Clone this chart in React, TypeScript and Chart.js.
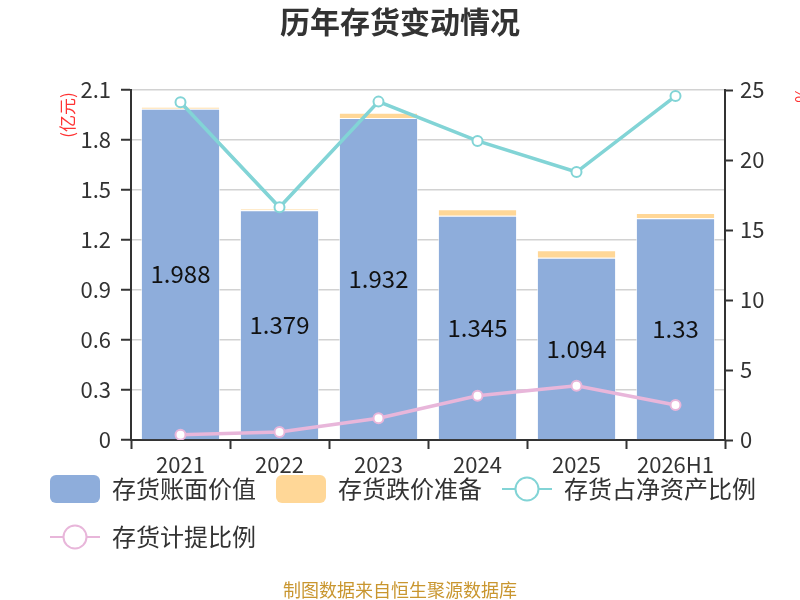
import React, { useEffect, useRef } from 'react';
import { Chart, registerables } from 'chart.js';

Chart.register(...registerables);

const categories = ['2021', '2022', '2023', '2024', '2025', '2026H1'];
const bookValue = [1.988, 1.379, 1.932, 1.345, 1.094, 1.33];
const reserve = [0.01, 0.008, 0.032, 0.04, 0.044, 0.032];
const inventoryRatio = [24.12, 16.62, 24.17, 21.36, 19.14, 24.57];
const provisionRatio = [0.38, 0.57, 1.55, 3.16, 3.88, 2.5];

const FONT = '"Noto Sans CJK SC", "Noto Sans", sans-serif';
const BLUE = '#8EADDB';
const ORANGE = '#FFD797';
const TEAL = '#82D4D6';
const PINK = '#E8B6DA';

const overlay = {
    id: 'overlay',
    afterDatasetsDraw(chart: any) {
        const ctx = chart.ctx;
        const meta = chart.getDatasetMeta(0);
        ctx.save();
        ctx.font = `24px ${FONT}`;
        ctx.fillStyle = '#111';
        ctx.textAlign = 'center';
        ctx.textBaseline = 'middle';
        meta.data.forEach((bar: any, i: number) => {
            const { x, y, base } = bar.getProps(['x', 'y', 'base'], true);
            ctx.fillText(String(bookValue[i]), x, (y + base) / 2);
        });
        ctx.restore();
    },
    afterDraw(chart: any) {
        const ctx = chart.ctx;
        ctx.save();
        // title
        ctx.font = `bold 30px ${FONT}`;
        ctx.fillStyle = '#333';
        ctx.textAlign = 'center';
        ctx.textBaseline = 'middle';
        ctx.fillText('历年存货变动情况', 400, 22);

        // source
        ctx.font = `18px ${FONT}`;
        ctx.fillStyle = '#C9962F';
        ctx.fillText('制图数据来自恒生聚源数据库', 400, 590);

        // axis titles
        ctx.font = `17px ${FONT}`;
        ctx.fillStyle = '#FF3333';
        ctx.save();
        ctx.translate(68, 115);
        ctx.rotate(-Math.PI / 2);
        ctx.fillText('(亿元)', 0, 0);
        ctx.restore();
        ctx.save();
        ctx.translate(802, 95);
        ctx.rotate(-Math.PI / 2);
        ctx.fillText('%', 0, 0);
        ctx.restore();

        // legend markers for line series
        const boxes = chart.legend?.legendHitBoxes || [];
        chart.legend?.legendItems?.forEach((item: any, i: number) => {
            const ds = chart.data.datasets[item.datasetIndex];
            if (ds.type !== 'line') return;
            const hb = boxes[i];
            if (!hb) return;
            const cy = hb.top + 14;
            const cx = hb.left + 25;
            ctx.strokeStyle = ds.borderColor;
            ctx.lineWidth = 2;
            ctx.beginPath();
            ctx.moveTo(hb.left, cy);
            ctx.lineTo(hb.left + 50, cy);
            ctx.stroke();
            ctx.beginPath();
            ctx.arc(cx, cy, 11.5, 0, Math.PI * 2);
            ctx.fillStyle = '#fff';
            ctx.fill();
            ctx.stroke();
        });
        ctx.restore();
    },
};

const InventoryChart: React.FC = () => {
    const canvasRef = useRef<HTMLCanvasElement | null>(null);

    useEffect(() => {
        document.body.style.margin = '0';
        const canvas = canvasRef.current;
        if (!canvas) return;
        const existing = Chart.getChart(canvas);
        if (existing) existing.destroy();

        Chart.defaults.font.family = FONT;
        Chart.defaults.color = '#333';

        const chart = new Chart(canvas, {
            type: 'bar',
            data: {
                labels: categories,
                datasets: [
                    {
                        type: 'bar',
                        label: '存货账面价值',
                        data: bookValue,
                        backgroundColor: BLUE,
                        borderColor: 'rgba(255,255,255,0.6)',
                        borderWidth: 1,
                        barPercentage: 0.8,
                        categoryPercentage: 1,
                        yAxisID: 'y',
                        stack: 'inv',
                        order: 1,
                    },
                    {
                        type: 'bar',
                        label: '存货跌价准备',
                        data: reserve,
                        backgroundColor: ORANGE,
                        borderColor: 'rgba(255,255,255,0.6)',
                        borderWidth: 1,
                        barPercentage: 0.8,
                        categoryPercentage: 1,
                        yAxisID: 'y',
                        stack: 'inv',
                        order: 1,
                    },
                    {
                        type: 'line',
                        label: '存货占净资产比例',
                        data: inventoryRatio,
                        borderColor: TEAL,
                        backgroundColor: '#fff',
                        borderWidth: 3.5,
                        pointRadius: 5,
                        pointBorderWidth: 2,
                        pointBackgroundColor: '#fff',
                        pointBorderColor: TEAL,
                        yAxisID: 'y1',
                        order: 0,
                    },
                    {
                        type: 'line',
                        label: '存货计提比例',
                        data: provisionRatio,
                        borderColor: PINK,
                        backgroundColor: '#fff',
                        borderWidth: 3.5,
                        pointRadius: 5,
                        pointBorderWidth: 2,
                        pointBackgroundColor: '#fff',
                        pointBorderColor: PINK,
                        yAxisID: 'y1',
                        order: 0,
                    },
                ] as any,
            },
            options: {
                animation: false,
                responsive: false,
                devicePixelRatio: 1,
                layout: { padding: { top: 90, left: 30, right: 0, bottom: 39 } },
                scales: {
                    x: {
                        stacked: true,
                        grid: { drawOnChartArea: false, drawTicks: true, tickLength: 9, tickColor: '#333', tickWidth: 2 },
                        border: { color: '#333', width: 2 },
                        ticks: { font: { size: 22 }, color: '#333', maxRotation: 0, autoSkip: false, padding: 2 },
                        afterFit: (s: any) => {
                            s.height = 15;
                            // let the tick labels overlap the legend, as in the original
                            s._computeLabelArea = () => undefined;
                        },
                    },
                    y: {
                        stacked: true,
                        position: 'left',
                        min: 0,
                        max: 2.1,
                        ticks: {
                            stepSize: 0.3,
                            font: { size: 22 },
                            color: '#333',
                            padding: 10,
                            callback: (v: any) => (Number(v) === 0 ? '0' : Number(v).toFixed(1)),
                        },
                        grid: { color: '#D2D2D2', lineWidth: 1.5, tickLength: 10, tickColor: '#333', tickWidth: 2 },
                        border: { color: '#333', width: 2 },
                        afterFit: (s: any) => { s.width = 101; },
                    },
                    y1: {
                        position: 'right',
                        min: 0,
                        max: 25,
                        ticks: { stepSize: 5, font: { size: 22 }, color: '#333', padding: 7 },
                        grid: { drawOnChartArea: false, tickLength: 8, tickColor: '#333', tickWidth: 2 },
                        border: { color: '#333', width: 2 },
                        afterFit: (s: any) => { s.width = 75; },
                    },
                },
                plugins: {
                    tooltip: { enabled: false },
                    title: { display: false },
                    legend: {
                        position: 'bottom',
                        align: 'start',
                        labels: {
                            font: { size: 24 },
                            color: '#333',
                            boxWidth: 50,
                            boxHeight: 28,
                            padding: 20,
                            generateLabels: (c: any) =>
                                c.data.datasets.map((ds: any, i: number) => ({
                                    text: ds.label,
                                    fillStyle: ds.type === 'line' ? 'rgba(0,0,0,0)' : ds.backgroundColor,
                                    strokeStyle: 'rgba(0,0,0,0)',
                                    lineWidth: 0,
                                    borderRadius: ds.type === 'line' ? 0 : 6,
                                    hidden: false,
                                    datasetIndex: i,
                                    fontColor: '#333',
                                })),
                        },
                    },
                },
            },
            plugins: [overlay],
        });

        return () => {
            chart.destroy();
        };
    }, []);

    return (
        <div style={{ width: 800, height: 600 }}>
            <canvas ref={canvasRef} width={800} height={600} />
        </div>
    );
};

export default function App() {
    return <InventoryChart />;
}
